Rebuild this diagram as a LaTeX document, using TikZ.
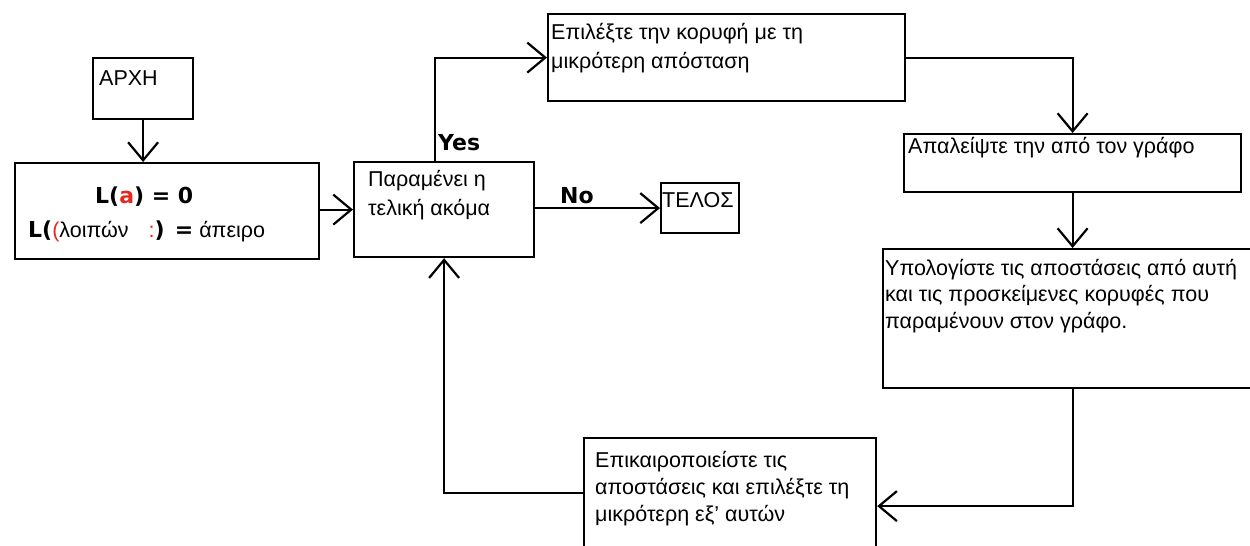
\documentclass[tikz,border=0pt]{standalone}
\usepackage{fontspec}
\setmainfont{Liberation Sans}
\newfontfamily\verdanalike{DejaVu Sans}
\usetikzlibrary{arrows.meta,calc}
\newcommand\lnstart{\rule{0pt}{18pt}}
\newcommand\boldpart[1]{{\verdanalike\bfseries\fontsize{22}{24}\selectfont #1}}
\definecolor{markred}{RGB}{230,40,30}
\begin{document}
\begin{tikzpicture}[x=1pt,y=-1pt,
  box/.style={draw, line width=2.2pt, inner sep=0pt, anchor=north west},
  txt/.style={anchor=north west, inner sep=0pt, align=left,
              font=\fontsize{21.5}{26}\selectfont},
  txtline/.style={anchor=base west, inner sep=0pt, font=\fontsize{21.5}{26}\selectfont},
  lbl/.style={anchor=base west, inner sep=0pt, font=\verdanalike\bfseries\fontsize{22}{24}\selectfont},
  flow/.style={line width=2.2pt, -{Straight Barb[length=18pt,width=30pt]}}]
\useasboundingbox (0,0) rectangle (1250,546);
\fill[white] (0,0) rectangle (1250,546);

% boxes
\node[box, minimum width=100pt, minimum height=61pt] (start) at (92,57) {};
\node[box, minimum width=304pt, minimum height=96pt] (init) at (14,162) {};
\node[box, minimum width=180pt, minimum height=95pt] (dec) at (353,161) {};
\node[box, minimum width=78pt, minimum height=50pt] (telos) at (660,182) {};
\node[box, minimum width=357pt, minimum height=87pt] (select) at (547,13) {};
\node[box, minimum width=337pt, minimum height=58pt] (remove) at (903,133) {};
\node[box, minimum width=400pt, minimum height=139pt] (compute) at (882,248) {};
\node[box, minimum width=292pt, minimum height=136pt] (update) at (583,437) {};

% texts
\node[txtline] (startT) at (99,85) {ΑΡΧΗ};
\node[lbl] (initA) at (95,203) {L(\textcolor{markred}{a}) = 0};
\node[txtline] (initB) at (28,237)
  {\boldpart{L(}\textcolor{markred}{(}λοιπών\hspace{20pt}\textcolor{markred}{:}\boldpart{) =} άπειρο};
\node[txt, font=\fontsize{21.5}{29}\selectfont] (decT) at (368,168) {\lnstart Παραμένει η\\τελική ακόμα};
\node[txtline] (telosT) at (662,207) {ΤΕΛΟΣ};
\node[txt, font=\fontsize{21.5}{29}\selectfont] (selT) at (551,21)
  {\lnstart Επιλέξτε την κορυφή με τη\\μικρότερη απόσταση};
\node[txtline] (remT) at (908,153) {Απαλείψτε την από τον γράφο};
\node[txt, font=\fontsize{21.5}{26.5}\selectfont] (compT) at (885,257)
  {\lnstart Υπολογίστε τις αποστάσεις από αυτή\\και τις προσκείμενες κορυφές που\\παραμένουν στον γράφο.};
\node[txt, font=\fontsize{21.5}{27}\selectfont] (updT) at (595,449)
  {\lnstart Επικαιροποιείστε τις\\αποστάσεις και επιλέξτε τη\\μικρότερη εξ' αυτών};

% connectors
\draw[flow] (start.south) -- (start.south |- init.north);
\draw[flow] (init.east |- dec.west) -- (dec.west);
\draw[flow] ([xshift=-9pt]dec.north) |- (select.west);
\draw[flow] (dec.east |- telos.west) -- (telos.west);
\draw[flow] (select.east) -| (remove.north);
\draw[flow] (remove.south) -- (remove.south |- compute.north);
\draw[flow] (remove.south |- compute.south) |- (update.east);
\draw[flow] ([yshift=13pt]update.west) -| (dec.south);

% branch labels
\node[lbl] (yes) at (438,150) {Yes};
\node[lbl] (no) at (560,203) {No};
\end{tikzpicture}
\end{document}
